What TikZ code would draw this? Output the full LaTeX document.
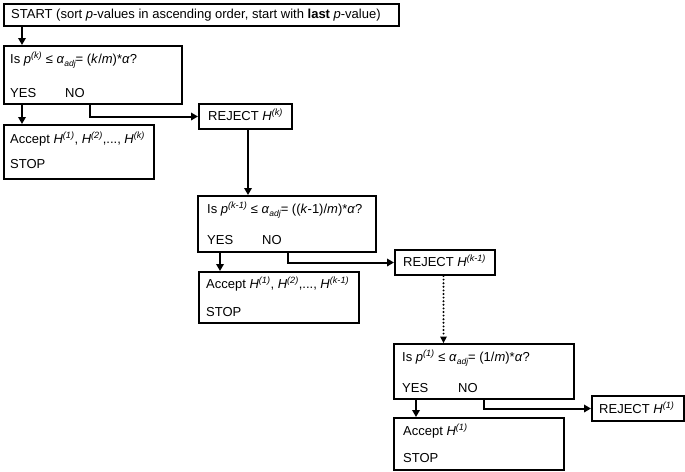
\documentclass[tikz,border=0pt]{standalone}
\usepackage{fontspec}
\setmainfont{Liberation Sans}
\usetikzlibrary{arrows.meta}
\newcommand\mysup[1]{\textsuperscript{\itshape #1}}
\newcommand\mysub[1]{\raisebox{-0.5ex}{\fontsize{8.5}{9}\selectfont\itshape #1}}
\begin{document}
\begin{tikzpicture}[x=1pt,y=-1pt,
  box/.style={draw,line width=2pt,inner sep=0pt,anchor=north west},
  txt/.style={anchor=base west,inner sep=0pt,font=\fontsize{13}{15}\selectfont},
  arr/.style={line width=2pt,-{Triangle[length=7pt,width=7.5pt]}},
  darr/.style={line width=2.2pt,line cap=round,dash pattern=on 0pt off 3.6pt,-{Triangle[length=6.5pt,width=7pt,line width=0pt]}}]
\useasboundingbox (0,0) rectangle (685,471);
% boxes
\node[box,minimum width=395pt,minimum height=22pt] (start) at (3,3) {};
\node[box,minimum width=178pt,minimum height=58pt] (q1) at (3,45) {};
\node[box,minimum width=150pt,minimum height=54pt] (acc1) at (3,124) {};
\node[box,minimum width=93pt,minimum height=25pt] (rej1) at (198,103) {};
\node[box,minimum width=178pt,minimum height=56pt] (q2) at (197,195) {};
\node[box,minimum width=160pt,minimum height=51pt] (acc2) at (198,271) {};
\node[box,minimum width=100pt,minimum height=25pt] (rej2) at (394,249) {};
\node[box,minimum width=180pt,minimum height=55pt] (q3) at (393,343) {};
\node[box,minimum width=170pt,minimum height=52pt] (acc3) at (393,417) {};
\node[box,minimum width=92pt,minimum height=25pt] (rej3) at (591,395) {};
% texts
\node[txt] (tstart) at (11,18.5) {START (sort \textit{p}-values in ascending order, start with \textbf{last} \textit{p}-value)};
\node[txt] (tq1) at (10,63) {Is \textit{p}\mysup{(k)} ≤ \textit{α}\mysub{adj}= (\textit{k}/\textit{m})*\textit{α}?};
\node[txt] (y1) at (10,97) {YES};
\node[txt] (n1) at (65,97) {NO};
\node[txt] (ta1) at (10,143) {Accept \textit{H}\mysup{(1)}, \textit{H}\mysup{(2)},..., \textit{H}\mysup{(k)}};
\node[txt] (s1) at (10,168) {STOP};
\node[txt] (tr1) at (208,120) {REJECT \textit{H}\mysup{(k)}};
\node[txt] (tq2) at (207,213) {Is \textit{p}\mysup{(k-1)} ≤ \textit{α}\mysub{adj}= ((\textit{k}-1)/\textit{m})*\textit{α}?};
\node[txt] (y2) at (207,244) {YES};
\node[txt] (n2) at (262,244) {NO};
\node[txt] (ta2) at (206,288) {Accept \textit{H}\mysup{(1)}, \textit{H}\mysup{(2)},..., \textit{H}\mysup{(k-1)}};
\node[txt] (s2) at (206,316) {STOP};
\node[txt] (tr2) at (403,266) {REJECT \textit{H}\mysup{(k-1)}};
\node[txt] (tq3) at (402,361) {Is \textit{p}\mysup{(1)} ≤ \textit{α}\mysub{adj}= (1/\textit{m})*\textit{α}?};
\node[txt] (y3) at (402,392) {YES};
\node[txt] (n3) at (458,392) {NO};
\node[txt] (ta3) at (403,435) {Accept \textit{H}\mysup{(1)}};
\node[txt] (s3) at (403,462) {STOP};
\node[txt] (tr3) at (599,413) {REJECT \textit{H}\mysup{(1)}};
% connectors
\draw[arr] ([xshift=19pt]start.south west) -- ([xshift=19pt]start.south west |- q1.north);
\draw[arr] ([xshift=19pt]q1.south west) -- ([xshift=19pt]q1.south west |- acc1.north);
\draw[arr] ([xshift=87pt]q1.south west) |- (rej1.west);
\draw[arr] ([xshift=2.5pt]rej1.south) -- ([xshift=2.5pt]rej1.south |- q2.north);
\draw[arr] ([xshift=23pt]q2.south west) -- ([xshift=23pt]q2.south west |- acc2.north);
\draw[arr] ([xshift=91pt]q2.south west) |- (rej2.west);
\draw[darr] ([xshift=-1.5pt]rej2.south) -- ([xshift=-1.5pt]rej2.south |- q3.north);
\draw[arr] ([xshift=23pt]q3.south west) -- ([xshift=23pt]q3.south west |- acc3.north);
\draw[arr] ([xshift=91pt]q3.south west) |- (rej3.west);
\end{tikzpicture}
\end{document}
